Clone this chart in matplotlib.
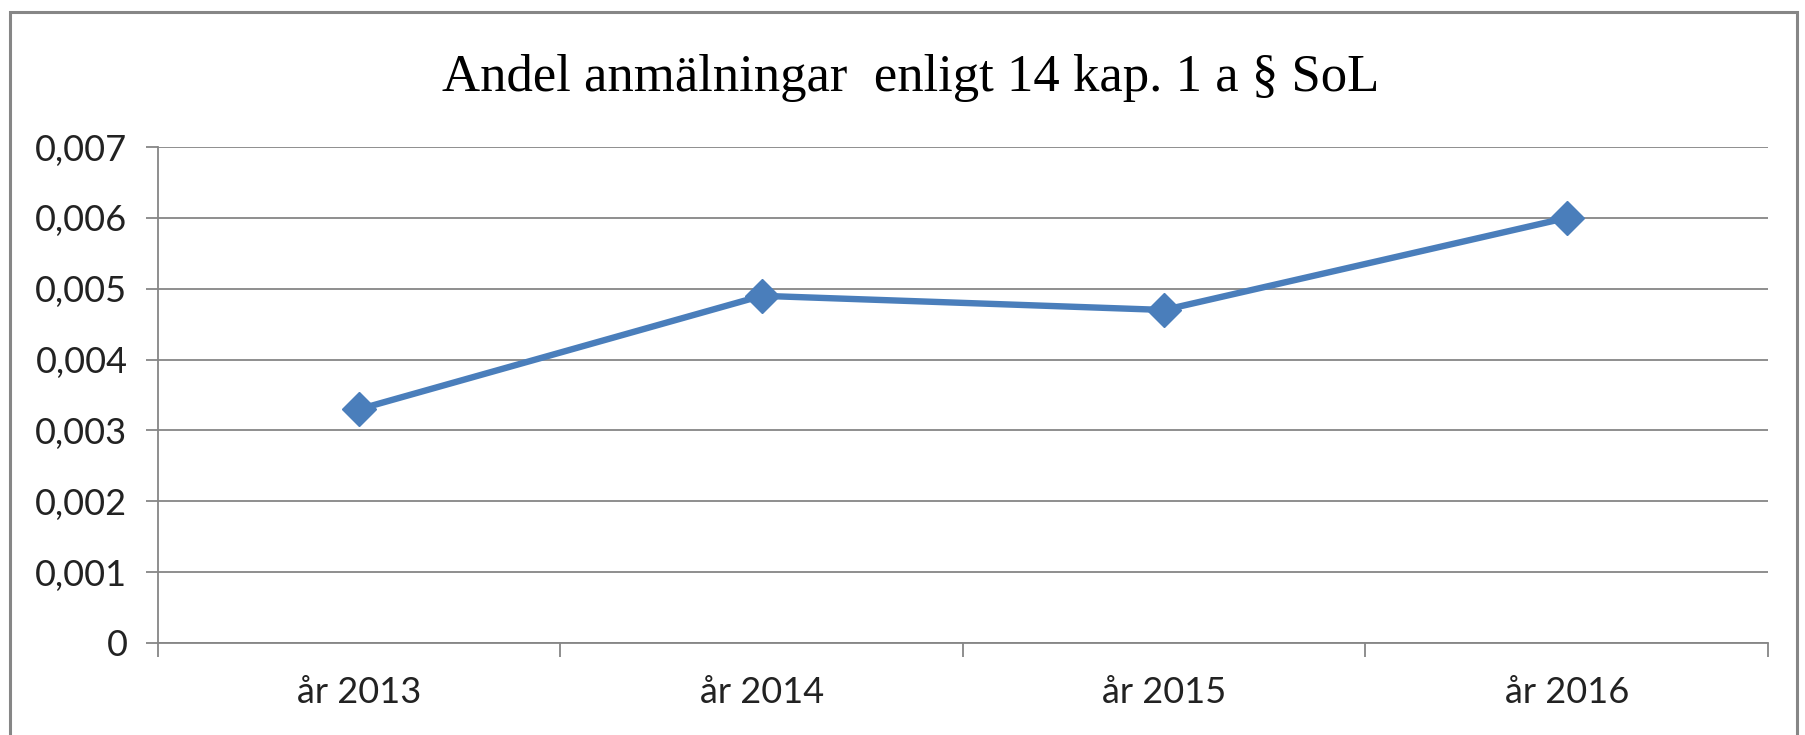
import matplotlib.pyplot as plt
from matplotlib.patches import Rectangle
from matplotlib.ticker import FuncFormatter, FixedLocator

# data
years = ['år 2013', 'år 2014', 'år 2015', 'år 2016']
andel = [0.0033, 0.0049, 0.0047, 0.0060]
yticks = [0, 0.001, 0.002, 0.003, 0.004, 0.005, 0.006, 0.007]

W, H = 1806, 735
fig = plt.figure(figsize=(W / 100, H / 100), dpi=100)
ax = fig.add_axes([158 / W, 1 - 643 / H, (1768 - 158) / W, (643 - 147) / H])

grey = '#868686'
x = list(range(len(years)))
ax.plot(x, andel, color='#4a7ebb', lw=4.6, marker='D', markersize=17,
        solid_capstyle='round', zorder=3)

ax.set_xlim(-0.5, len(years) - 0.5)
ax.set_ylim(0, 0.007)
ax.set_yticks(yticks)
ax.yaxis.set_major_formatter(FuncFormatter(
    lambda v, p: '0' if v == 0 else f'{v:.3f}'.replace('.', ',')))
ax.grid(axis='y', color=grey, lw=1.3)
ax.set_axisbelow(True)

# Excel-style category axis: ticks between categories, labels centred
ax.xaxis.set_major_locator(FixedLocator([i - 0.5 for i in range(len(years) + 1)]))
ax.xaxis.set_minor_locator(FixedLocator(x))
ax.set_xticklabels([])
ax.set_xticklabels(years, minor=True)
ax.tick_params(axis='x', which='major', length=10, width=1.3, color=grey, direction='out')
ax.tick_params(axis='x', which='minor', length=0, pad=24, labelsize=26, labelcolor='#222222')
ax.tick_params(axis='y', length=9, width=1.3, color=grey, pad=13, labelsize=26,
               labelcolor='#222222')
for lab in ax.get_xticklabels(minor=True) + ax.get_yticklabels():
    lab.set_family('Lato')

for s in ['top', 'right']:
    ax.spines[s].set_visible(False)
for s in ['left', 'bottom']:
    ax.spines[s].set_color(grey)
    ax.spines[s].set_linewidth(1.3)

fig.text(911 / W, 1 - 78 / H, 'Andel anmälningar  enligt 14 kap. 1 a § SoL',
         ha='center', va='center', fontsize=38, family='Liberation Serif')

# outer chart frame
fig.patches.append(Rectangle((10 / W, -0.05), (1797 - 10) / W, 1.05 - 12 / H,
                             transform=fig.transFigure, fill=False,
                             edgecolor=grey, lw=2.2))

fig.savefig('out.png', dpi=100)
